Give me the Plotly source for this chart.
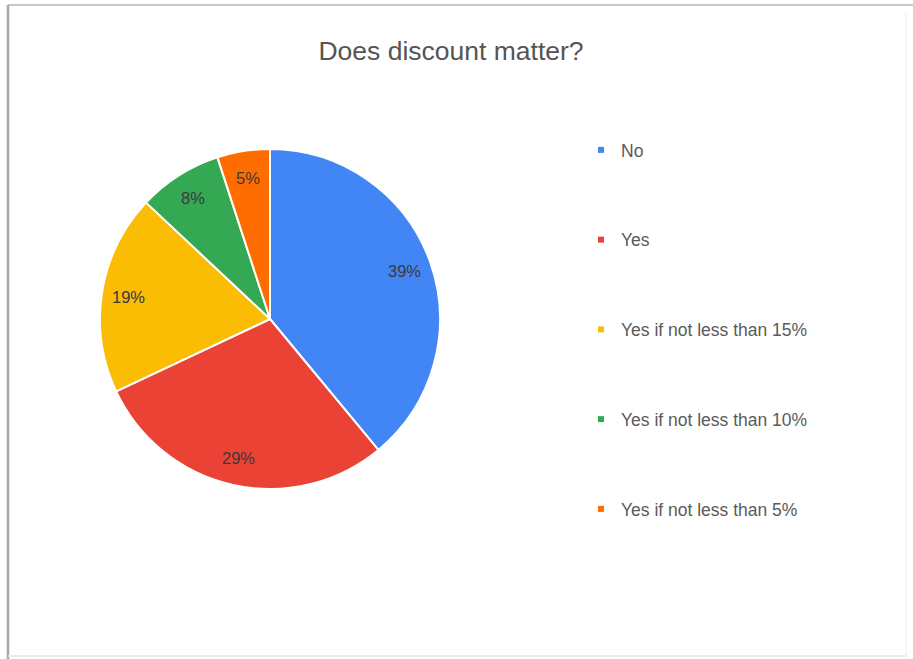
import math
import plotly.graph_objects as go

# Survey answers and their shares (percent)
categories = ["No", "Yes", "Yes if not less than 15%", "Yes if not less than 10%", "Yes if not less than 5%"]
shares = [39, 29, 19, 8, 5]
colors = ["#4285F4", "#EA4335", "#FBBC04", "#34A853", "#FF6D01"]

W, H = 913, 659
# pie placement in pixels (center and radius)
cx, cy, rad = 270, 319, 170
label_frac = 0.84

fig = go.Figure()

fig.add_trace(go.Pie(
    labels=categories,
    values=shares,
    sort=False,
    direction="clockwise",
    rotation=0,
    marker=dict(colors=colors, line=dict(color="white", width=2)),
    textinfo="none",
    hoverinfo="label+percent",
    showlegend=False,
    domain=dict(x=[(cx - rad) / W, (cx + rad) / W], y=[1 - (cy + rad) / H, 1 - (cy - rad) / H]),
))

# Percentage labels placed at the middle angle of each slice
total = sum(shares)
acc = 0
for v in shares:
    mid = (acc + v / 2) / total * 2 * math.pi
    acc += v
    px = cx + math.sin(mid) * rad * label_frac
    py = cy - math.cos(mid) * rad * label_frac
    fig.add_annotation(
        x=px / W, y=1 - py / H, xref="paper", yref="paper",
        text=f"{round(v / total * 100)}%", showarrow=False,
        font=dict(family="Liberation Sans, Arial, sans-serif", size=16.5, color="#3a3a3a"),
        xanchor="center", yanchor="middle",
    )

# Legend entries, one group per category for wide spacing
for i, (name, col) in enumerate(zip(categories, colors)):
    fig.add_trace(go.Scatter(
        x=[None], y=[None], mode="markers", name=name,
        marker=dict(symbol="square", size=6, color=col),
        legendgroup=f"g{i}", showlegend=True, hoverinfo="skip",
    ))

fig.update_layout(
    width=W, height=H,
    margin=dict(l=0, r=0, t=0, b=0),
    paper_bgcolor="white", plot_bgcolor="white",
    xaxis=dict(visible=False), yaxis=dict(visible=False),
    title=dict(
        text="Does discount matter?",
        x=451 / W, xanchor="center", y=1 - 51 / H, yanchor="middle",
        font=dict(family="Liberation Sans, Arial, sans-serif", size=26.5, color="#555555"),
    ),
    legend=dict(
        x=(601 - 20) / W, xanchor="left", y=1 - 132 / H, yanchor="top",
        font=dict(family="Liberation Sans, Arial, sans-serif", size=17.5, color="#5a5a5a"),
        tracegroupgap=64, bgcolor="rgba(0,0,0,0)",
    ),
    shapes=[
        dict(type="line", xref="paper", yref="paper", x0=8 / W, x1=1, y0=1 - 5 / H, y1=1 - 5 / H,
             line=dict(color="#c8c8c8", width=2)),
        dict(type="line", xref="paper", yref="paper", x0=8 / W, x1=8 / W, y0=0, y1=1 - 5 / H,
             line=dict(color="#a8a8a8", width=2.5)),
        dict(type="line", xref="paper", yref="paper", x0=906 / W, x1=906 / W, y0=1 - 656 / H, y1=1 - 13 / H,
             line=dict(color="#eeeeee", width=1)),
        dict(type="line", xref="paper", yref="paper", x0=8 / W, x1=906 / W, y0=1 - 656 / H, y1=1 - 656 / H,
             line=dict(color="#e6e6e6", width=1.5)),
    ],
)

fig.write_html("out.html")
